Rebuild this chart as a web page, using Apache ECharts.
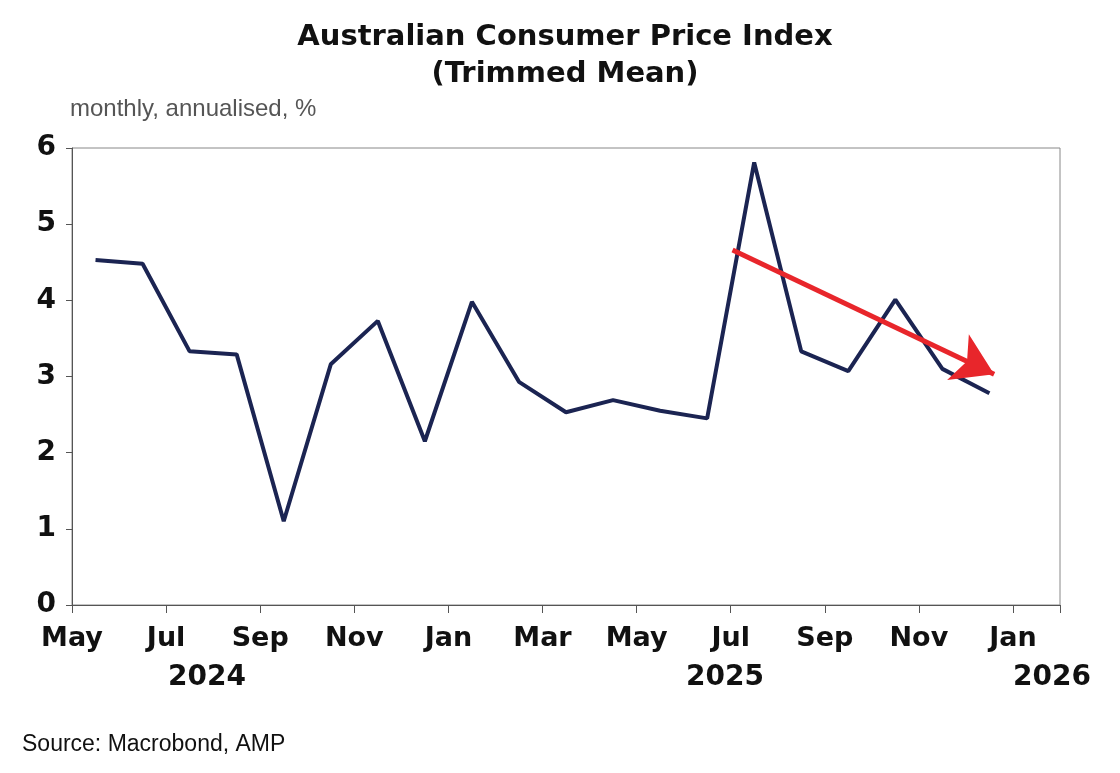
<!DOCTYPE html>
<html>
<head>
<meta charset="utf-8">
<script src="https://cdn.jsdelivr.net/npm/echarts@6/dist/echarts.min.js"></script>
<style>html,body{margin:0;background:#fff}#main{width:1120px;height:773px}</style>
</head>
<body>
<div id="main"></div>
<script>
// monthly trimmed mean, annualised %, May 2024 .. Dec 2025
let values = [4.53, 4.48, 3.33, 3.29, 1.10, 3.16, 3.73, 2.15, 3.98, 2.93,
              2.53, 2.69, 2.55, 2.45, 5.81, 3.33, 3.07, 4.01, 3.10, 2.78];
let months = ['May', 'Jul', 'Sep', 'Nov', 'Jan', 'Mar', 'May', 'Jul', 'Sep', 'Nov', 'Jan'];
// x is months since 1 May 2024, points mid-month
let data = values.map((v, i) => [i + 0.5, v]);

let chart = echarts.init(document.getElementById('main'));
chart.setOption({
    animation: false,
    title: {
        text: 'Australian Consumer Price Index\n(Trimmed Mean)',
        left: 560, top: 14, textAlign: 'center',
        textStyle: {fontFamily: 'DejaVu Sans', fontWeight: 'bold', fontSize: 29, lineHeight: 37, color: '#111'}
    },
    grid: {left: 72, right: 60, top: 148, bottom: 168, show: true, borderColor: '#888', borderWidth: 1},
    xAxis: {
        type: 'value', min: 0, max: 21, interval: 2,
        axisLine: {lineStyle: {color: '#555'}},
        axisTick: {show: true, length: 8, lineStyle: {color: '#555'}},
        splitLine: {show: false},
        axisLabel: {
            fontFamily: 'DejaVu Sans', fontWeight: 'bold', fontSize: 27, color: '#111', margin: 20,
            formatter: v => months[v / 2] || ''
        }
    },
    yAxis: {
        type: 'value', min: 0, max: 6, interval: 1,
        axisLine: {show: true, lineStyle: {color: '#555'}},
        axisTick: {show: true, length: 6, lineStyle: {color: '#555'}},
        splitLine: {show: false},
        axisLabel: {fontFamily: 'DejaVu Sans', fontWeight: 'bold', fontSize: 28, color: '#111', margin: 16}
    },
    series: [{
        type: 'line', data: data, symbol: 'none',
        lineStyle: {color: '#1b2452', width: 4},
        markLine: {
            silent: true, symbol: ['none', 'arrow'], symbolSize: [38, 40],
            label: {show: false},
            lineStyle: {color: '#e8262b', width: 5, type: 'solid'},
            data: [[{coord: [14.04, 4.66]}, {coord: [19.6, 3.03]}]]
        }
    }],
    graphic: [
        {type: 'text', left: 70, top: 97, style: {text: 'monthly, annualised, %', font: '24px "Liberation Sans"', fill: '#555'}},
        {type: 'text', left: 168, top: 664, style: {text: '2024', font: 'bold 28px "DejaVu Sans"', fill: '#111'}},
        {type: 'text', left: 686, top: 664, style: {text: '2025', font: 'bold 28px "DejaVu Sans"', fill: '#111'}},
        {type: 'text', left: 1013, top: 664, style: {text: '2026', font: 'bold 28px "DejaVu Sans"', fill: '#111'}},
        {type: 'text', left: 22, top: 733, style: {text: 'Source: Macrobond, AMP', font: '23px "Liberation Sans"', fill: '#111'}}
    ]
});
</script>
</body>
</html>
